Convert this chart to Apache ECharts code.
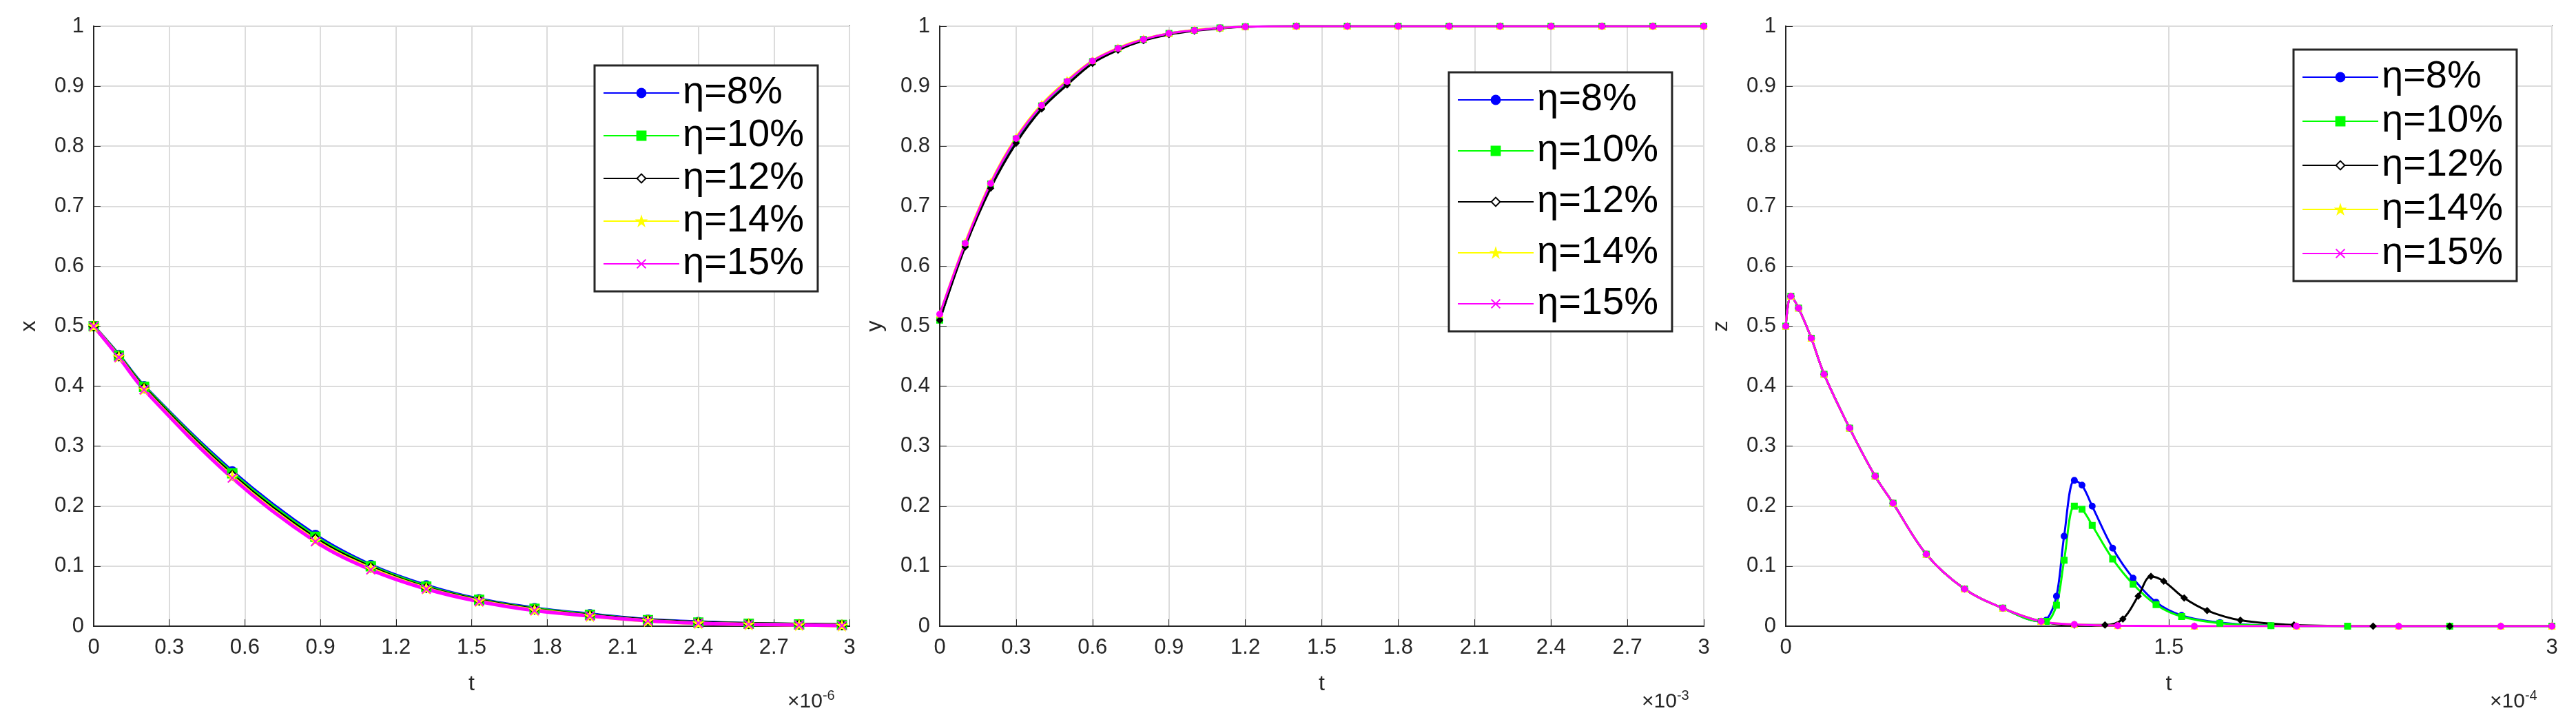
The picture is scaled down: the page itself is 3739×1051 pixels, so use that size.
<!DOCTYPE html>
<html><head><meta charset="utf-8">
<script src="https://cdn.jsdelivr.net/npm/echarts@6/dist/echarts.min.js"></script>
<style>html,body{margin:0;padding:0;background:#fff}#c{width:3739px;height:1051px}</style>
</head><body><div id="c"></div>
<script>
var names = ['η=8%', 'η=10%', 'η=12%', 'η=14%', 'η=15%'];
var colors = ['#0000ff', '#00ff00', '#000000', '#ffff00', '#ff00ff'];

// panel 1: x(t), t in 1e-6
var t1 = [0, 0.1, 0.2, 0.55, 0.88, 1.1, 1.32, 1.53, 1.75, 1.97, 2.2, 2.4, 2.6, 2.8, 2.97];
var x8 = [0.5, 0.452, 0.4, 0.258, 0.152, 0.102, 0.068, 0.045, 0.03, 0.02, 0.011, 0.007, 0.004, 0.003, 0.002];
var x10 = [0.5, 0.451, 0.399, 0.255, 0.149, 0.1, 0.066, 0.044, 0.029, 0.019, 0.01, 0.006, 0.004, 0.003, 0.002];
var x12 = [0.5, 0.45, 0.397, 0.252, 0.146, 0.098, 0.064, 0.043, 0.028, 0.018, 0.01, 0.006, 0.004, 0.003, 0.002];
var x14 = [0.5, 0.449, 0.395, 0.249, 0.143, 0.096, 0.063, 0.042, 0.027, 0.017, 0.009, 0.005, 0.003, 0.002, 0.001];
var x15 = [0.5, 0.448, 0.394, 0.247, 0.141, 0.094, 0.062, 0.041, 0.026, 0.017, 0.009, 0.005, 0.003, 0.002, 0.001];

// panel 2: y(t), t in 1e-3
var t2 = [0, 0.1, 0.2, 0.3, 0.4, 0.5, 0.6, 0.7, 0.8, 0.9, 1.0, 1.1, 1.2, 1.4, 1.6, 1.8, 2.0, 2.2, 2.4, 2.6, 2.8, 3.0];
var y8 = [0.51, 0.635, 0.735, 0.81, 0.865, 0.905, 0.94, 0.962, 0.977, 0.987, 0.993, 0.997, 0.999, 1, 1, 1, 1, 1, 1, 1, 1, 1];
var y10 = [0.51, 0.637, 0.737, 0.812, 0.867, 0.907, 0.941, 0.963, 0.978, 0.988, 0.993, 0.997, 0.999, 1, 1, 1, 1, 1, 1, 1, 1, 1];
var y12 = [0.51, 0.632, 0.73, 0.805, 0.862, 0.902, 0.938, 0.96, 0.976, 0.986, 0.992, 0.996, 0.999, 1, 1, 1, 1, 1, 1, 1, 1, 1];
var y14 = [0.52, 0.64, 0.74, 0.815, 0.87, 0.91, 0.943, 0.964, 0.979, 0.988, 0.994, 0.997, 0.999, 1, 1, 1, 1, 1, 1, 1, 1, 1];
var y15 = [0.52, 0.638, 0.738, 0.813, 0.868, 0.908, 0.942, 0.963, 0.978, 0.988, 0.993, 0.997, 0.999, 1, 1, 1, 1, 1, 1, 1, 1, 1];

// panel 3: z(t), t in 1e-4
var t3a = [0, 0.02, 0.05, 0.1, 0.15, 0.25, 0.35, 0.42, 0.55, 0.7, 0.85, 1.0, 1.02, 1.06, 1.09, 1.13, 1.16, 1.2, 1.28, 1.36, 1.45, 1.55, 1.7, 1.9, 2.2, 2.6, 3.0];
var z8 = [0.5, 0.55, 0.53, 0.48, 0.42, 0.33, 0.25, 0.205, 0.12, 0.062, 0.03, 0.008, 0.01, 0.05, 0.15, 0.243, 0.235, 0.2, 0.13, 0.08, 0.04, 0.018, 0.006, 0.001, 0, 0, 0];
var z10 = [0.5, 0.55, 0.53, 0.48, 0.42, 0.33, 0.25, 0.205, 0.12, 0.062, 0.03, 0.008, 0.008, 0.035, 0.11, 0.2, 0.195, 0.168, 0.112, 0.07, 0.036, 0.016, 0.005, 0.001, 0, 0, 0];
var t3b = [0, 0.02, 0.05, 0.1, 0.15, 0.25, 0.35, 0.42, 0.55, 0.7, 0.85, 1.0, 1.13, 1.25, 1.32, 1.38, 1.43, 1.48, 1.56, 1.65, 1.78, 1.99, 2.3, 2.6, 3.0];
var z12 = [0.5, 0.55, 0.53, 0.48, 0.42, 0.33, 0.25, 0.205, 0.12, 0.062, 0.03, 0.008, 0.002, 0.002, 0.012, 0.05, 0.083, 0.075, 0.047, 0.026, 0.01, 0.002, 0, 0, 0];
var t3c = [0, 0.02, 0.05, 0.1, 0.15, 0.25, 0.35, 0.42, 0.55, 0.7, 0.85, 1.0, 1.13, 1.3, 1.6, 2.0, 2.4, 2.8, 3.0];
var z14 = [0.5, 0.55, 0.53, 0.48, 0.42, 0.33, 0.25, 0.205, 0.12, 0.062, 0.03, 0.008, 0.003, 0.001, 0, 0, 0, 0, 0];
var z15 = [0.5, 0.55, 0.53, 0.48, 0.42, 0.33, 0.25, 0.205, 0.12, 0.062, 0.03, 0.008, 0.003, 0.001, 0, 0, 0, 0, 0];

var xPath = 'path://M0,0L10,10M10,0L0,10';
var syms1 = ['circle', 'rect', 'diamond', 'path://M5,0L6.2,3.8L10,3.8L6.9,6.1L8.1,10L5,7.6L1.9,10L3.1,6.1L0,3.8L3.8,3.8Z', xPath];
var syms2 = ['circle', 'rect', 'diamond', 'triangle', 'circle'];

function zip(a, b) { return a.map(function (v, i) { return [v, b[i]]; }); }

var grids = [
  { left: 136, top: 38, width: 1097, height: 871 },
  { left: 1364, top: 38, width: 1109, height: 871 },
  { left: 2592, top: 38, width: 1112, height: 871 }
];
var ynames = ['x', 'y', 'z'];
var xint = [0.3, 0.3, 1.5];
var exps = ['-6', '-3', '-4'];
var lab = { color: '#262626', fontSize: 31, fontFamily: 'Liberation Sans' };
var splitL = { show: true, lineStyle: { color: '#dcdcdc', width: 2 } };

var xAxis = [], yAxis = [], graphic = [];
grids.forEach(function (g, i) {
  g.show = true; g.borderColor = '#262626'; g.borderWidth = 2;
  xAxis.push({ type: 'value', gridIndex: i, min: 0, max: 3, interval: xint[i],
    axisLine: { lineStyle: { color: '#262626', width: 2 } }, axisTick: { inside: true, length: 10 },
    axisLabel: Object.assign({ margin: 16, formatter: function (v) { return +v.toFixed(1) + ''; } }, lab),
    splitLine: splitL,
    name: 't', nameLocation: 'middle', nameGap: 68, nameTextStyle: { color: '#262626', fontSize: 32, fontFamily: 'Liberation Sans' } });
  yAxis.push({ type: 'value', gridIndex: i, min: 0, max: 1, interval: 0.1,
    axisLine: { lineStyle: { color: '#262626', width: 2 } }, axisTick: { inside: true, length: 10 },
    axisLabel: Object.assign({ margin: 14, formatter: function (v) { return +v.toFixed(1) + ''; } }, lab),
    splitLine: splitL,
    name: ynames[i], nameLocation: 'middle', nameGap: 78, nameTextStyle: { color: '#262626', fontSize: 32, fontFamily: 'Liberation Sans' } });
  graphic.push({ type: 'text', left: g.left + g.width - 90, top: 1000,
    style: { text: '×10{s|' + exps[i] + '}', fill: '#262626', font: '30px Liberation Sans',
      rich: { s: { fontSize: 20, verticalAlign: 'top', padding: [0, 0, 18, 0], fill: '#262626' } } } });
});

var data = [
  [zip(t1, x8), zip(t1, x10), zip(t1, x12), zip(t1, x14), zip(t1, x15)],
  [zip(t2, y8), zip(t2, y10), zip(t2, y12), zip(t2, y14), zip(t2, y15)],
  [zip(t3a, z8), zip(t3a, z10), zip(t3b, z12), zip(t3c, z14), zip(t3c, z15)]
];

var series = [];
data.forEach(function (panel, p) {
  panel.forEach(function (d, k) {
    var syms = p === 0 ? syms1 : syms2;
    series.push({ name: names[k], type: 'line', xAxisIndex: p, yAxisIndex: p, data: d,
      smooth: 0.35, symbol: syms[k], symbolSize: p === 0 ? 13 : 8,
      showAllSymbol: true, animation: false,
      itemStyle: { color: (p === 0 && k === 2) ? '#fff' : colors[k], borderColor: colors[k], borderWidth: 2 },
      lineStyle: { color: colors[k], width: p === 0 ? 5 : 3 } });
  });
});

var legendPos = [
  { left: 863, top: 95, itemGap: 6 },
  { left: 2103, top: 105, itemGap: 18 },
  { left: 3329, top: 72, itemGap: 8 }
];
var legend = legendPos.map(function (l) {
  return { orient: 'vertical', left: l.left, top: l.top, itemGap: l.itemGap,
    data: names, itemWidth: 110, itemHeight: 16, padding: [12, 20, 12, 12],
    backgroundColor: '#fff', borderColor: '#262626', borderWidth: 3,
    textStyle: { fontSize: 56, color: '#000', fontFamily: 'Liberation Sans' } };
});

var myChart = echarts.init(document.getElementById('c'));
myChart.setOption({ backgroundColor: '#fff', animation: false, grid: grids, xAxis: xAxis, yAxis: yAxis,
  legend: legend, series: series, graphic: graphic });
</script></body></html>
